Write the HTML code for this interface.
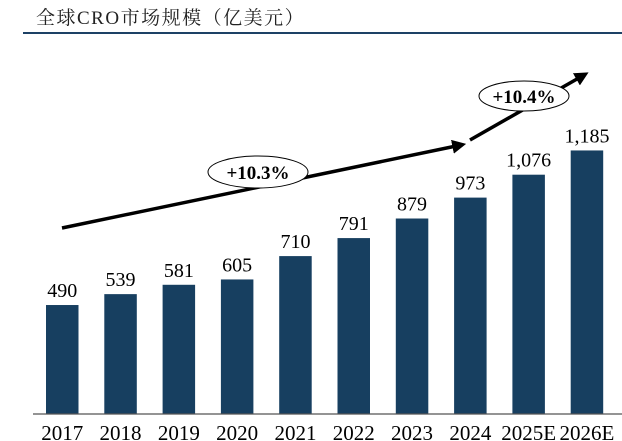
<!DOCTYPE html>
<html><head><meta charset="utf-8"><style>
body{margin:0;background:#fff;width:622px;height:441px;overflow:hidden}
svg{display:block}
</style></head><body>
<svg id="chart" width="622" height="441" xmlns="http://www.w3.org/2000/svg" font-family="Liberation Serif, Noto Serif CJK SC, serif">
<text x="36" y="24" font-size="19" letter-spacing="1.5" fill="#222" font-family="Liberation Serif, Noto Serif CJK SC, serif">全球CRO市场规模（亿美元）</text>
<line x1="23" y1="33" x2="622" y2="33" stroke="#1d4165" stroke-width="2"/>
<defs><marker id="ah" markerWidth="4" markerHeight="4" refX="2.5" refY="2" orient="auto" markerUnits="strokeWidth"><path d="M0,0 L4,2 L0,4 z" fill="#000"/></marker></defs>
<line x1="62" y1="228" x2="461" y2="145" stroke="#000" stroke-width="3.5" marker-end="url(#ah)"/>
<line x1="470" y1="140" x2="584" y2="75" stroke="#000" stroke-width="3.5" marker-end="url(#ah)"/>
<g id="bars"></g>
<line x1="33" y1="414" x2="622" y2="414" stroke="#555" stroke-width="1.2"/>
<ellipse cx="258" cy="172" rx="50" ry="16" fill="#fff" stroke="#000" stroke-width="1"/>
<text x="258" y="179" font-size="19" font-weight="bold" text-anchor="middle">+10.3%</text>
<ellipse cx="524" cy="96" rx="45" ry="15" fill="#fff" stroke="#000" stroke-width="1"/>
<text x="524" y="103" font-size="19" font-weight="bold" text-anchor="middle">+10.4%</text>
</svg>
<script>
const categories=["2017","2018","2019","2020","2021","2022","2023","2024","2025E","2026E"];
const values=[490,539,581,605,710,791,879,973,1076,1185];
const valueLabels=["490","539","581","605","710","791","879","973","1,076","1,185"];
const base=414, k=0.2224, x0=46, step=58.3, bw=32.5;
const y=v=>base-v*k, x=i=>x0+i*step;
const g=document.getElementById('bars');const ns='http://www.w3.org/2000/svg';
categories.forEach((c,i)=>{
 const r=document.createElementNS(ns,'rect');
 
 
 r.setAttribute('x',x(i));r.setAttribute('y',y(values[i]));r.setAttribute('width',bw);r.setAttribute('height',base-y(values[i]));r.setAttribute('fill','#173f60');g.appendChild(r);
 const t=document.createElementNS(ns,'text');
 
 
 t.setAttribute('x',x(i)+bw/2);t.setAttribute('y',y(values[i])-8);t.setAttribute('text-anchor','middle');t.setAttribute('font-size','20');t.textContent=valueLabels[i];g.appendChild(t);
 const l=document.createElementNS(ns,'text');
 
 
 l.setAttribute('x',x(i)+bw/2);l.setAttribute('y',440);l.setAttribute('text-anchor','middle');l.setAttribute('font-size','21');l.textContent=c;g.appendChild(l);
});
</script>
</body></html>
